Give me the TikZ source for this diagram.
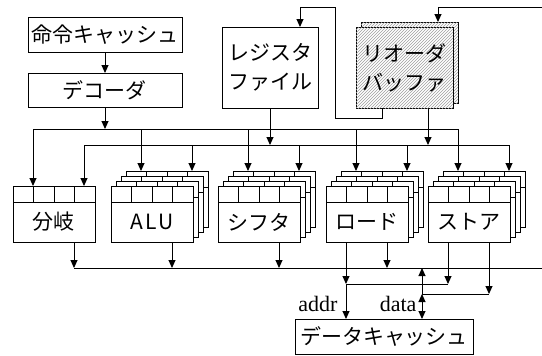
\documentclass[tikz,border=0pt]{standalone}
\usepackage{fontspec}
\setmainfont{Liberation Serif}
\newfontfamily\jp{Noto Sans CJK JP}
\usetikzlibrary{arrows.meta,patterns,positioning,calc}

\tikzset{
  >={Triangle[length=8pt,width=7pt]},
  box/.style={draw, fill=white, inner sep=0pt, outer sep=0pt, align=center,
    font=\jp\fontsize{21}{29}\selectfont},
  hatch/.style={fill=white, postaction={pattern=north east lines, pattern color=gray!75}},
  layer/.style={draw, fill=white, inner sep=0pt, outer sep=0pt,
    minimum width=82pt, minimum height=56pt},
  unittxt/.style={inner sep=0pt, font=\jp\fontsize{21}{24}\selectfont},
  lbl/.style={inner sep=0pt, font=\fontsize{22}{24}\selectfont},
}

\begin{document}
\begin{tikzpicture}[x=1pt, y=-1pt, line width=1pt]
\useasboundingbox (0,0) rectangle (542,356);

\coordinate (busA) at (0,129);
\coordinate (busB) at (0,145);
\coordinate (busR) at (0,268);
\coordinate (edgeT) at (542,7);
\coordinate (edgeR) at (542,268);
\coordinate (wb) at (335,118);
\coordinate (addrj) at (346,284);
\coordinate (dataj) at (422,294);

\node[box, minimum width=154pt, minimum height=35pt] (icache) at (105,34.5) {命令キャッシュ};
\node[box, minimum width=154pt, minimum height=34pt] (decoder) at (105,90) {デコーダ};
\node[box, minimum width=96pt, minimum height=81pt] (regfile) at (270,67.5) {レジスタ\\ファイル};
\node[box, hatch, minimum width=97pt, minimum height=81pt] (rob-b) at (409.5,62.5) {};
\node[box, hatch, minimum width=97pt, minimum height=81pt] (rob) at (404.5,67.5) {リオーダ\\バッファ};

\draw[->] (icache) -- (decoder);
\draw[->] (decoder) -- (decoder |- busA);
\draw[->] (regfile.south) -- (regfile.south |- busB);
\draw[->] ([xshift=23.5pt]rob.south) -- ([xshift=23.5pt]rob.south |- busB);
\draw[->] ([xshift=-22.5pt]rob.south) |- (wb) |- ([xshift=30pt]regfile.north |- edgeT) -- ([xshift=30pt]regfile.north);
\draw[->] (edgeT) -| ([xshift=28.5pt]rob-b.north);

\foreach \name/\lx/\txt/\ks in {bunki/13/分岐/{0}, alu/111/{\addfontfeature{LetterSpace=12}ALU}/{3,2,1,0}, shift/218/シフタ/{3,2,1,0}, load/326/ロード/{3,2,1,0}, store/428/ストア/{3,2,1,0}}{
  \foreach \k in \ks {
    \node[layer] (\name-\k) at (\lx+41+5*\k, 214-5*\k) {};
    \draw ([yshift=-16pt]\name-\k.north west) -- ([yshift=-16pt]\name-\k.north east);
    \foreach \i in {1,2,3}
      \draw ([xshift=\i*20.5pt]\name-\k.north west) -- ++(0,16);
  }
  \node[unittxt] (\name) at (\lx+41,222) {\txt};
}

\draw[<->] ([xshift=20pt]bunki-0.north west) -- ([xshift=20pt]bunki-0.north west |- busA) -| ([xshift=15pt]store-3.north west);
\draw[<->] ([xshift=71pt]bunki-0.north west) -- ([xshift=71pt]bunki-0.north west |- busB) -| ([xshift=66pt]store-3.north west);
\foreach \u in {alu,shift,load}{
  \draw[->] ([xshift=15pt]\u-3.north west |- busA) -- ([xshift=15pt]\u-3.north west);
  \draw[->] ([xshift=66pt]\u-3.north west |- busB) -- ([xshift=66pt]\u-3.north west);
}

\draw ([xshift=-21pt]bunki-0.south east |- busR) -- (edgeR);
\foreach \u in {bunki,alu,shift,load}
  \draw[->] ([xshift=-21pt]\u-0.south east) -- ([xshift=-21pt]\u-0.south east |- busR);

\node[box, minimum width=178pt, minimum height=35pt] (dcache) at (384,336.5) {データキャッシュ};
\node[lbl, anchor=base east] (addr) at (338,311) {addr};
\node[lbl, anchor=base east] (data) at (417,311) {data};

\draw[->] ([xshift=20pt]load-0.south west) -- (addrj);
\draw[->] (addrj) -- (addrj |- dcache.north);
\draw[->] ([xshift=20pt]store-0.south west) -- ([xshift=20pt]store-0.south west |- addrj);
\draw (addrj) -- ([xshift=20pt]store-0.south west |- addrj);
\draw[->] ([xshift=-21pt]store-0.south east) -- ([xshift=-21pt]store-0.south east |- dataj);
\draw (dataj) -- ([xshift=-21pt]store-0.south east |- dataj);
\draw[->] (dataj) -- (dataj |- busR);
\draw[<->] (dataj) -- (dataj |- dcache.north);
\end{tikzpicture}
\end{document}
